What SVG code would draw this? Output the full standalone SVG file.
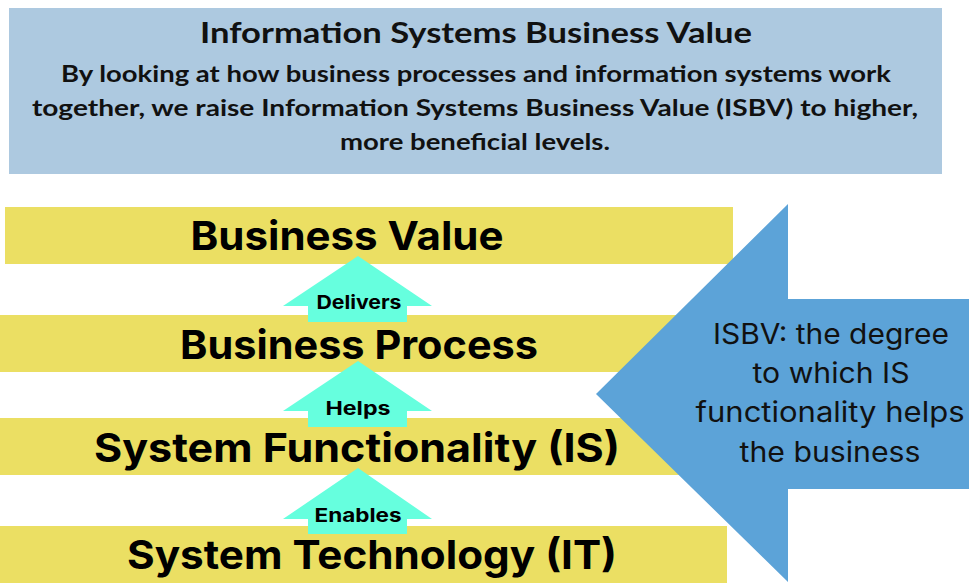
<svg xmlns="http://www.w3.org/2000/svg" width="969" height="583" viewBox="0 0 969 583">
  <style>
    .hdr { fill: #111; font-family: Lato, "Liberation Sans", sans-serif; font-weight: 700; text-anchor: middle; }
    .bar { fill: #EBDF63; }
    .lvl { fill: #000; font-family: Inter, "Open Sans", sans-serif; font-weight: 700; font-size: 40px; text-anchor: middle; }
    .up { fill: #66FFDE; }
    .lbl { fill: #000; font-family: Inter, "Open Sans", sans-serif; font-weight: 700; font-size: 19px; text-anchor: middle; }
    .isbv { fill: #111; font-family: Inter, "Open Sans", sans-serif; font-weight: 400; font-size: 28px; text-anchor: middle; }
  </style>
  <rect width="969" height="583" fill="#FFFFFF"/>

  <g id="header">
    <rect x="9" y="8" width="933" height="166" fill="#ADC9E0"/>
    <text class="hdr" x="476" y="43" font-size="28" textLength="552" lengthAdjust="spacingAndGlyphs">Information Systems Business Value</text>
    <text class="hdr" x="476" y="82" font-size="23" textLength="830" lengthAdjust="spacingAndGlyphs">By looking at how business processes and information systems work</text>
    <text class="hdr" x="475" y="116" font-size="23" textLength="886" lengthAdjust="spacingAndGlyphs">together, we raise Information Systems Business Value (ISBV) to higher,</text>
    <text class="hdr" x="475" y="150" font-size="23" textLength="270" lengthAdjust="spacingAndGlyphs">more beneficial levels.</text>
  </g>

  <g id="business-value">
    <rect class="bar" x="5" y="207" width="728" height="57"/>
    <text class="lvl" x="347" y="250" textLength="313" lengthAdjust="spacingAndGlyphs">Business Value</text>
  </g>
  <g id="business-process">
    <rect class="bar" x="0" y="315" width="733" height="57"/>
    <text class="lvl" x="359" y="359" textLength="358" lengthAdjust="spacingAndGlyphs">Business Process</text>
  </g>
  <g id="system-functionality">
    <rect class="bar" x="0" y="418" width="733" height="57"/>
    <text class="lvl" x="357" y="462" textLength="526" lengthAdjust="spacingAndGlyphs">System Functionality (IS)</text>
  </g>
  <g id="system-technology">
    <rect class="bar" x="0" y="526" width="727" height="57"/>
    <text class="lvl" x="372" y="569" textLength="490" lengthAdjust="spacingAndGlyphs">System Technology (IT)</text>
  </g>

  <g id="connectors">
    <g id="delivers">
      <polygon class="up" points="358,256 432,306 407,306 407,322 308,322 308,306 283,306"/>
      <text class="lbl" x="359" y="309" textLength="85" lengthAdjust="spacingAndGlyphs">Delivers</text>
    </g>
    <g id="helps">
      <polygon class="up" points="358,361 432,411 407,411 407,427 308,427 308,411 283,411"/>
      <text class="lbl" x="358" y="415" textLength="65" lengthAdjust="spacingAndGlyphs">Helps</text>
    </g>
    <g id="enables">
      <polygon class="up" points="358,468 432,519 407,519 407,534 308,534 308,519 283,519"/>
      <text class="lbl" x="358" y="522" textLength="87" lengthAdjust="spacingAndGlyphs">Enables</text>
    </g>
  </g>

  <g id="isbv">
    <polygon fill="#5CA3D8" points="596,394 788,204 788,299 969,299 969,489 788,489 788,582"/>
    <text class="isbv" x="831" y="344" textLength="236" lengthAdjust="spacingAndGlyphs">ISBV: the degree</text>
    <text class="isbv" x="831" y="383" textLength="157" lengthAdjust="spacingAndGlyphs">to which IS</text>
    <text class="isbv" x="830" y="422" textLength="269" lengthAdjust="spacingAndGlyphs">functionality helps</text>
    <text class="isbv" x="830" y="462" textLength="181" lengthAdjust="spacingAndGlyphs">the business</text>
  </g>
</svg>
